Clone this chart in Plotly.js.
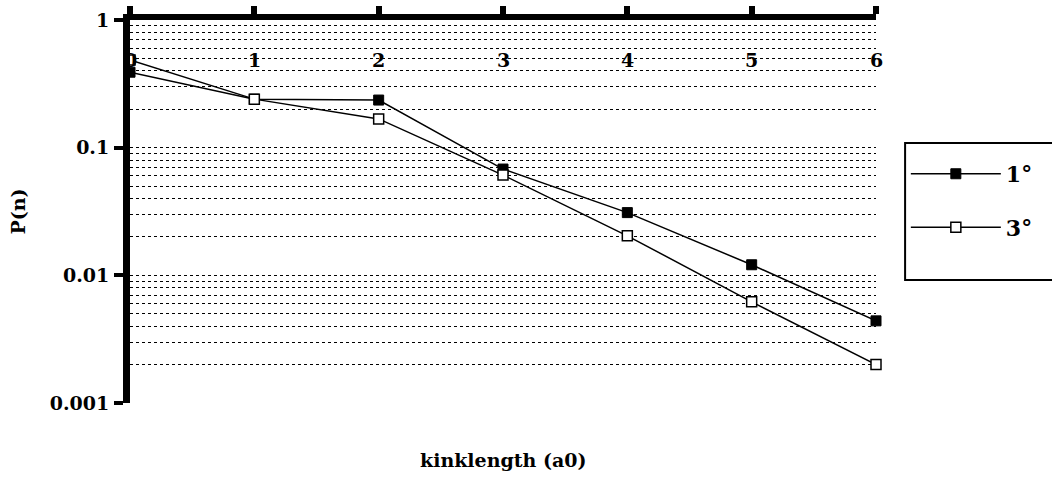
<!DOCTYPE html>
<html>
<head>
<meta charset="utf-8">
<script src="https://cdn.plot.ly/plotly-3.0.1.min.js"></script>
<style>html,body{margin:0;padding:0;background:#fff;}#chart{width:1052px;height:481px;}</style>
</head>
<body>
<div id="chart"></div>
<script>
var kinkLength = [0, 1, 2, 3, 4, 5, 6];
var xTickLabels = ['0', '1', '2', '3', '4', '5', '6'];
var series1Name = '1°';
var series1 = [0.39, 0.24, 0.236, 0.068, 0.031, 0.0121, 0.0044];
var series3Name = '3°';
var series3 = [0.486, 0.24, 0.168, 0.061, 0.0204, 0.0062, 0.0020];
var yTickVals = [0.001, 0.01, 0.1, 1];
var yTickLabels = ['0.001', '0.01', '0.1', '1'];

var serif = 'DejaVu Serif, Liberation Serif, serif';

var traces = [
  {
    x: kinkLength, y: series1, name: series1Name, type: 'scatter', mode: 'lines+markers',
    line: {color: '#000', width: 1.5},
    marker: {symbol: 'square', size: 10, color: '#000', line: {color: '#000', width: 1}},
    cliponaxis: false, legendgroup: 'a'
  },
  {
    x: kinkLength, y: series3, name: series3Name, type: 'scatter', mode: 'lines+markers',
    line: {color: '#000', width: 1.5},
    marker: {symbol: 'square', size: 10, color: '#fff', line: {color: '#000', width: 1.5}},
    cliponaxis: false, legendgroup: 'b'
  }
];

var annotations = kinkLength.map(function (v, i) {
  return {
    text: xTickLabels[i], xref: 'x', yref: 'paper', x: v, y: 0.896,
    xanchor: 'center', yanchor: 'middle', showarrow: false,
    font: {family: serif, size: 19, weight: 'bold', color: '#000'}
  };
});
annotations.push({
  text: 'kinklength (a0)', xref: 'paper', yref: 'paper', x: 0.5, y: -0.149,
  xanchor: 'center', yanchor: 'middle', showarrow: false,
  font: {family: serif, size: 19, weight: 'bold', color: '#000'}
});

var layout = {
  width: 1052, height: 481,
  margin: {l: 130, r: 176, t: 20, b: 78},
  paper_bgcolor: '#fff', plot_bgcolor: '#fff',
  font: {family: serif, color: '#000', size: 18},
  showlegend: true,
  legend: {
    x: 1.04, xanchor: 'left', y: 0.68, yanchor: 'top',
    borderwidth: 0, bgcolor: 'rgba(0,0,0,0)',
    font: {family: serif, size: 22, weight: 'bold', color: '#000'},
    title: {text: ' ', font: {size: 8}},
    itemwidth: 90, traceorder: 'grouped', tracegroupgap: 22
  },
  shapes: [
    {type: 'rect', xref: 'paper', yref: 'paper', x0: 1.039, x1: 1.25, y0: 0.321, y1: 0.679,
     line: {color: '#000', width: 2}, fillcolor: 'rgba(0,0,0,0)', layer: 'above'}
  ],
  xaxis: {
    type: 'linear', range: [0, 6], side: 'top',
    tickmode: 'array', tickvals: kinkLength, showticklabels: false,
    ticks: 'outside', ticklen: 8, tickwidth: 6, tickcolor: '#000',
    showline: true, linecolor: '#000', linewidth: 6,
    showgrid: false, zeroline: false
  },
  yaxis: {
    type: 'log', range: [-3, 0],
    tickmode: 'array', tickvals: yTickVals, ticktext: yTickLabels,
    tickfont: {family: serif, size: 19, weight: 'bold'},
    ticks: 'outside', ticklen: 9, tickwidth: 4, tickcolor: '#000',
    ticklabelstandoff: 1,
    showline: true, linecolor: '#000', linewidth: 7,
    showgrid: true, gridcolor: '#000', gridwidth: 1, griddash: 'dot',
    minor: {dtick: 'D1', showgrid: true, gridcolor: '#000', gridwidth: 1, griddash: 'dot', ticks: ''},
    zeroline: false,
    title: {text: 'P(n)', font: {family: serif, size: 19, weight: 'bold'}, standoff: 22}
  },
  annotations: annotations
};

Plotly.newPlot('chart', traces, layout, {displayModeBar: false, staticPlot: true});
</script>
</body>
</html>
